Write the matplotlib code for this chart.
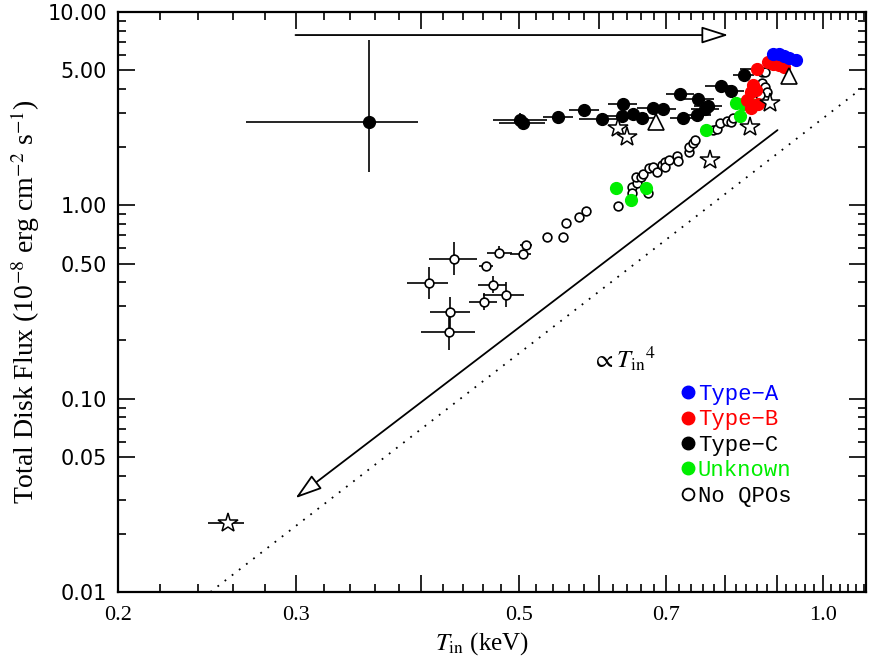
import numpy as np
import matplotlib
matplotlib.use("Agg")
import matplotlib.pyplot as plt
from matplotlib.lines import Line2D
from matplotlib.ticker import FixedLocator, NullFormatter, FixedFormatter

plt.rcParams["mathtext.fontset"] = "stix"

# Type-A QPOs
tA = [0.893, 0.905, 0.916, 0.926, 0.941]
fA = [6.06, 6.06, 5.92, 5.78, 5.64]

# Type-B QPOs
tB = [0.861, 0.883, 0.893, 0.905, 0.916, 0.853, 0.859, 0.849, 0.841, 0.863, 0.849]
fB = [5.07, 5.51, 5.38, 5.32, 5.19, 4.19, 3.95, 3.86, 3.51, 3.34, 3.19]

# Type-C QPOs (with x error ranges)
tC = [0.501, 0.504, 0.546, 0.580, 0.604, 0.634, 0.632, 0.649, 0.662, 0.678,
      0.695, 0.722, 0.727, 0.752, 0.751, 0.765, 0.770, 0.793, 0.811, 0.836]
fC = [2.76, 2.67, 2.86, 3.11, 2.80, 3.34, 2.90, 2.97, 2.83, 3.19,
      3.15, 3.77, 2.83, 3.55, 2.93, 3.15, 3.26, 4.14, 3.90, 4.72]
tC_lo = [0.471, 0.478, 0.528, 0.560, 0.573, 0.612, 0.600, 0.628, 0.640, 0.655,
         0.675, 0.700, 0.705, 0.725, 0.728, 0.740, 0.745, 0.765, 0.790, 0.815]
tC_hi = [0.533, 0.530, 0.566, 0.600, 0.630, 0.655, 0.660, 0.670, 0.685, 0.700,
         0.715, 0.745, 0.750, 0.780, 0.775, 0.790, 0.795, 0.815, 0.835, 0.855]

# the isolated Type-C point with large errors
t_big, f_big = 0.355, 2.70
t_big_rng = (0.268, 0.397)
f_big_rng = (1.49, 7.16)

# unknown QPO type
tU = [0.821, 0.834, 0.849, 0.828, 0.766, 0.624, 0.645, 0.668]
fU = [3.38, 3.34, 3.34, 2.90, 2.45, 1.23, 1.065, 1.23]

# no QPOs, faint points with error bars
tN_err = [0.431, 0.407, 0.427, 0.426, 0.464, 0.471, 0.485, 0.461, 0.478, 0.504, 0.508]
fN_err = [0.527, 0.396, 0.2805, 0.221, 0.485, 0.387, 0.344, 0.316, 0.567, 0.560, 0.623]
tN_lo = [0.407, 0.387, 0.408, 0.400, 0.456, 0.455, 0.460, 0.446, 0.465, 0.490, 0.501]
tN_hi = [0.454, 0.425, 0.447, 0.452, 0.471, 0.485, 0.506, 0.475, 0.492, 0.514, 0.515]
fN_lo = [0.436, 0.328, 0.226, 0.178, 0.485, 0.352, 0.298, 0.287, 0.534, 0.560, 0.623]
fN_hi = [0.646, 0.480, 0.336, 0.2805, 0.485, 0.431, 0.401, 0.352, 0.616, 0.560, 0.623]

# no QPOs, other points
tN = [0.533, 0.553, 0.557, 0.573, 0.583, 0.627, 0.647, 0.647, 0.655, 0.653,
      0.661, 0.671, 0.664, 0.673, 0.679, 0.685, 0.693, 0.698, 0.698, 0.704,
      0.717, 0.719, 0.737, 0.737, 0.744, 0.747, 0.779, 0.786, 0.791, 0.804,
      0.811, 0.815, 0.871, 0.877, 0.871, 0.877, 0.881, 0.867]
fN = [0.686, 0.686, 0.810, 0.870, 0.934, 0.992, 1.244, 1.158, 1.304, 1.401,
      1.401, 1.158, 1.451, 1.560, 1.578, 1.487, 1.616, 1.675, 1.578, 1.715,
      1.80, 1.695, 1.887, 2.003, 2.101, 2.177, 2.45, 2.481, 2.666, 2.73,
      2.70, 2.83, 4.89, 4.89, 4.29, 4.09, 3.86, 3.72]

# stars and triangles
t_star = [0.627, 0.640, 0.773, 0.847, 0.887]
f_star = [2.51, 2.25, 1.71, 2.54, 3.38]
t_star_low, f_star_low = 0.257, 0.0227
t_star_low_rng = (0.2457, 0.267)
t_tri = [0.684, 0.926]
f_tri = [2.70, 4.67]

# reference lines / arrows
arrow_top = ((0.30, 7.6), (0.806, 7.6))
arrow_diag = ((0.902, 2.45), (0.300, 0.0306))
dot_t = [0.247, 1.104]
dot_f = [0.01, 4.19]

legend_labels = ["Type\u2212A", "Type\u2212B", "Type\u2212C", "Unknown", "No QPOs"]
legend_colors = ["#0000ff", "#ff0000", "#000000", "#00ee00", "#000000"]

xticks_major = [0.2, 0.3, 0.4, 0.5, 0.6, 0.7, 0.8, 0.9, 1.0]
xtick_labels = {0.2: "0.2", 0.3: "0.3", 0.5: "0.5", 0.7: "0.7", 1.0: "1.0"}
yticks_labeled = [0.01, 0.05, 0.1, 0.5, 1.0, 5.0, 10.0]
ytick_labels = ["0.01", "0.05", "0.10", "0.50", "1.00", "5.00", "10.00"]

fig = plt.figure(figsize=(8.72, 6.67), dpi=100)
ax = fig.add_axes([0.1353, 0.1124, 0.8578, 0.8696])
ax.set_xscale("log")
ax.set_yscale("log")
ax.set_xlim(0.2, 1.104)
ax.set_ylim(0.01, 10.0)

serif = "Liberation Serif"
mono = "Liberation Mono"

# dotted line and arrows
ax.plot(dot_t, dot_f, ls=(0, (1, 4)), color="black", lw=1.3)
for (start, end) in (arrow_top, arrow_diag):
    ax.annotate("", xy=end, xytext=start,
                arrowprops=dict(arrowstyle="-|>,head_length=1.1,head_width=0.35",
                                fc="white", ec="black", lw=1.3,
                                mutation_scale=15, shrinkA=0, shrinkB=0))

# error bars
eb = dict(fmt="none", ecolor="black", elinewidth=1.2, capsize=0, zorder=2)
tC_a = np.array(tC)
ax.errorbar(tC, fC, xerr=[tC_a - np.array(tC_lo), np.array(tC_hi) - tC_a], **eb)
ax.errorbar([tC[0]], [fC[0]], yerr=[[fC[0] - 2.55], [3.0 - fC[0]]], **eb)
ax.errorbar([t_big], [f_big], xerr=[[t_big - t_big_rng[0]], [t_big_rng[1] - t_big]],
            yerr=[[f_big - f_big_rng[0]], [f_big_rng[1] - f_big]], **eb)
ax.errorbar([tB[0]], [fB[0]], xerr=[[tB[0] - 0.828], [0.88 - tB[0]]], **eb)
tN_a = np.array(tN_err)
fN_a = np.array(fN_err)
ax.errorbar(tN_err, fN_err, xerr=[tN_a - np.array(tN_lo), np.array(tN_hi) - tN_a],
            yerr=[fN_a - np.array(fN_lo), np.array(fN_hi) - fN_a], **eb)
ax.errorbar([t_star_low], [f_star_low],
            xerr=[[t_star_low - t_star_low_rng[0]], [t_star_low_rng[1] - t_star_low]], **eb)

# markers
ax.plot(tN_err + tN, fN_err + fN, "o", ms=6.3, mfc="white", mec="black", mew=1.2, zorder=3)
ax.plot(tC, fC, "o", ms=8.5, color="black", zorder=4)
ax.plot([t_big], [f_big], "o", ms=8.5, color="black", zorder=4)
ax.plot(tU, fU, "o", ms=8.5, color="#00ee00", zorder=5)
ax.plot(tB, fB, "o", ms=8.5, color="#ff0000", zorder=5)
ax.plot(tA, fA, "o", ms=8.5, color="#0000ff", zorder=6)
ax.plot(t_star + [t_star_low], f_star + [f_star_low], "*", ms=15, mfc="white",
        mec="black", mew=1.1, zorder=7)
ax.plot(t_tri, f_tri, "^", ms=11, mfc="white", mec="black", mew=1.2, zorder=7)

ax.text(0.590, 0.145, r"$\propto T_{\rm in}{}^{4}$", fontsize=18, ha="left", va="baseline")

# legend
handles = [Line2D([], [], ls="none", marker="o", ms=9, color=c) for c in legend_colors[:4]]
handles.append(Line2D([], [], ls="none", marker="o", ms=8.5, mfc="white", mec="black", mew=1.3))
leg = ax.legend(handles, legend_labels, loc="upper left", bbox_to_anchor=(0.738, 0.378),
                frameon=False, prop={"family": mono, "size": 16}, handlelength=0.6,
                handletextpad=0.15, labelspacing=0.2, borderpad=0)
for txt, c in zip(leg.get_texts(), legend_colors):
    txt.set_color(c)

# ticks
ax.xaxis.set_major_locator(FixedLocator(xticks_major))
ax.xaxis.set_major_formatter(FixedFormatter([xtick_labels.get(v, "") for v in xticks_major]))
ax.xaxis.set_minor_locator(FixedLocator(list(np.arange(0.22, 1.1, 0.02))))
ax.xaxis.set_minor_formatter(NullFormatter())
ax.yaxis.set_major_locator(FixedLocator(yticks_labeled))
ax.yaxis.set_major_formatter(FixedFormatter(ytick_labels))
ax.yaxis.set_minor_locator(FixedLocator([m * d for d in (0.01, 0.1, 1.0) for m in range(2, 10)]))
ax.yaxis.set_minor_formatter(NullFormatter())
ax.tick_params(which="both", direction="in", top=True, right=True, width=1.2)
ax.tick_params(which="major", length=12)
ax.tick_params(which="minor", length=6)
ax.tick_params(axis="x", labelsize=16, pad=10, labelfontfamily=serif)
ax.tick_params(axis="y", labelsize=15, pad=8, labelfontfamily="DejaVu Sans")
for s in ax.spines.values():
    s.set_linewidth(1.6)

ax.set_xlabel(r"$T_{\rm in}$ (keV)", family=serif, fontsize=18, labelpad=4)
ax.xaxis.set_label_coords(0.487, -0.065)
ax.set_ylabel(r"Total Disk Flux (10$^{-8}$ erg cm$^{-2}$ s$^{-1}$)", family=serif,
              fontsize=20, labelpad=4)

fig.savefig("out.png", dpi=100)
